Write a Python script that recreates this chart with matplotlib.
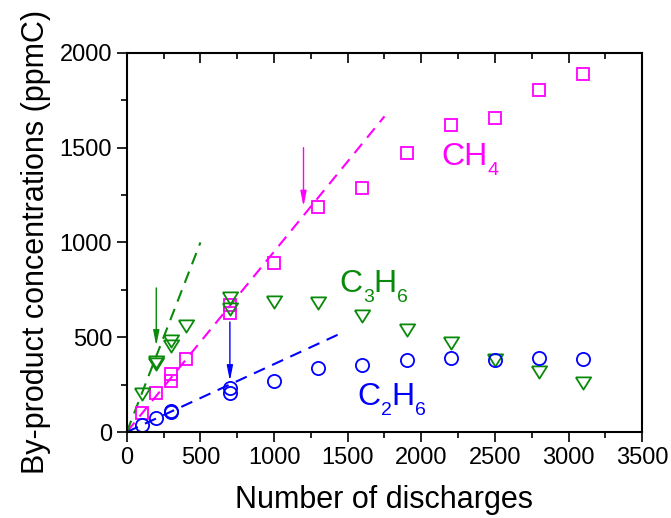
import numpy as np
import matplotlib
matplotlib.use('Agg')
import matplotlib.pyplot as plt
from matplotlib.ticker import MultipleLocator

### Data
ch4_x = [100, 200, 300, 300, 400, 700, 700, 1000, 1300, 1600, 1900, 2200, 2500, 2800, 3100]
ch4_y = [100, 205, 305, 270, 384, 670, 630, 889, 1186, 1289, 1474, 1621, 1658, 1805, 1889]

c2h6_x = [100, 200, 300, 300, 700, 700, 1000, 1300, 1600, 1900, 2200, 2500, 2800, 3100]
c2h6_y = [38, 74, 112, 105, 230, 205, 270, 340, 354, 380, 393, 379, 388, 384]

c3h6_x = [100, 200, 200, 300, 300, 400, 700, 700, 1000, 1300, 1600, 1900, 2200, 2500, 2800, 3100]
c3h6_y = [200, 370, 360, 478, 452, 557, 705, 650, 684, 679, 612, 538, 468, 380, 316, 258]

# initial-slope guide lines (start, end)
fit_ch4 = ([0, 1750], [0, 1665])
fit_c2h6 = ([0, 1480], [0, 530])
fit_c3h6 = ([0, 500], [0, 1000])

# arrows (x, y_start, y_end)
arrow_ch4 = (1200, 1500, 1190)
arrow_c3h6 = (200, 760, 455)
arrow_c2h6 = (700, 580, 270)

# formula labels: pieces (text, is_subscript)
lab_ch4 = [('CH', False), ('4', True)]
lab_c3h6 = [('C', False), ('3', True), ('H', False), ('6', True)]
lab_c2h6 = [('C', False), ('2', True), ('H', False), ('6', True)]

magenta = '#FF00FF'
green = '#0A8A0A'
blue = '#0000FF'

plt.rcParams['font.family'] = ['Liberation Sans', 'DejaVu Sans']

fig = plt.figure(figsize=(6.71, 5.18), dpi=100)
ax = fig.add_axes([0.189, 0.166, 0.768, 0.732])

tri = [(-1, 0.8), (1, 0.8), (0, -0.8), (-1, 0.8)]
dash = (0, (5.8, 3.8))

### Guide lines
ax.plot(*fit_ch4, color=magenta, ls=dash, lw=1.5)
ax.plot(*fit_c2h6, color=blue, ls=dash, lw=1.5)
ax.plot(*fit_c3h6, color=green, ls=dash, lw=1.5)

### Markers
ax.plot(ch4_x, ch4_y, ls='none', marker='s', ms=8, mfc='none', mec=magenta, mew=1.3)
ax.plot(c3h6_x, c3h6_y, ls='none', marker=tri, ms=11, mfc='none', mec=green, mew=1.3)
ax.plot(c2h6_x, c2h6_y, ls='none', marker='o', ms=9.5, mfc='none', mec=blue, mew=1.3)

### Arrows
for (xa, y0, y1), col in [(arrow_ch4, magenta), (arrow_c3h6, green), (arrow_c2h6, blue)]:
    ax.annotate('', xy=(xa, y1), xytext=(xa, y0),
                arrowprops=dict(arrowstyle='-|>,head_length=0.9,head_width=0.18',
                                color=col, lw=1.0, shrinkA=0, shrinkB=0))

### Formula labels with low-set subscripts
def formula(x, y, pieces, color):
    txt = pieces[0][0]
    prev = ax.text(x, y, txt, color=color, fontsize=23, ha='left', va='baseline')
    for txt, sub in pieces[1:]:
        prev = ax.annotate(txt, xy=(1, y), xycoords=(prev, 'data'),
                           xytext=(0, -7 if sub else 0), textcoords='offset points',
                           color=color, fontsize=14 if sub else 23,
                           ha='left', va='baseline')

formula(2137, 1409, lab_ch4, magenta)
formula(1446, 739, lab_c3h6, green)
formula(1568, 142, lab_c2h6, blue)

ax.set_xlim(0, 3500)
ax.set_ylim(0, 2000)
ax.xaxis.set_major_locator(MultipleLocator(500))
ax.xaxis.set_minor_locator(MultipleLocator(250))
ax.yaxis.set_major_locator(MultipleLocator(500))
ax.yaxis.set_minor_locator(MultipleLocator(250))

ax.tick_params(axis='x', which='both', bottom=True, top=True, direction='out', labelsize=17, width=1.2)
ax.tick_params(axis='x', which='major', length=7)
ax.tick_params(axis='x', which='minor', length=4)
ax.tick_params(axis='y', which='both', left=True, right=False, direction='out', labelsize=17, width=1.2)
ax.tick_params(axis='y', which='major', length=7)
ax.tick_params(axis='y', which='minor', length=4)
# top ticks point inward
for t in ax.xaxis.get_major_ticks() + ax.xaxis.get_minor_ticks():
    t.tick2line.set_marker(matplotlib.lines.TICKDOWN)

for s in ax.spines.values():
    s.set_linewidth(1.5)

ax.set_xlabel('Number of discharges', fontsize=22, labelpad=12)
ax.set_ylabel('By-product concentrations (ppmC)', fontsize=22, labelpad=6)

plt.savefig('out.png', dpi=100)
